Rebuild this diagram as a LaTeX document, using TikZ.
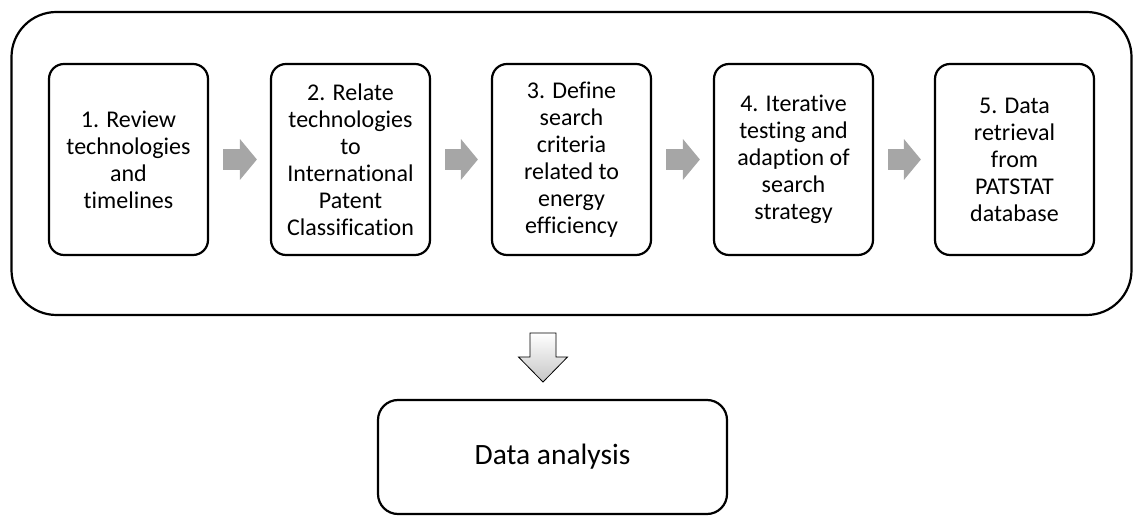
\documentclass[tikz,border=0pt]{standalone}
\usepackage{fontspec}
\setmainfont{Carlito}[Ligatures={NoCommon,NoContextual,NoRare}]
\usetikzlibrary{arrows.meta}
\definecolor{linkgray}{RGB}{166,166,166}

\begin{document}
\begin{tikzpicture}[x=1pt, y=1pt,
    stepbox/.style={draw, line width=2.2pt, rounded corners=15pt, minimum width=159pt, minimum height=191pt, align=center, font=\fontsize{24}{27}\selectfont},
    link/.style={draw=linkgray, line width=21pt, -{Triangle[length=17pt, width=40pt]}}]
  \useasboundingbox (0,0) rectangle (1134,516);
  \node [draw, line width=2.2pt, rounded corners=45pt, minimum width=1120pt, minimum height=303pt] (frame) at (571.5,352.5) {};
  \node [stepbox] (review) at (128.5,356.5) {1. Review\\technologies\\and\\timelines};
  \node [stepbox] (relate) at (350.5,356.5) {2. Relate\\technologies\\to\\International\\Patent\\Classification};
  \node [stepbox] (define) at (571.5,356.5) {3. Define\\search\\criteria\\related to\\energy\\efficiency};
  \node [stepbox] (testing) at (793.5,356.5) {4. Iterative\\testing and\\adaption of\\search\\strategy};
  \node [stepbox] (retrieval) at (1014.5,356.5) {5. Data\\retrieval\\from\\PATSTAT\\database};
  \draw [link] ([xshift=14pt]review.east) -- ([xshift=-13pt]relate.west);
  \draw [link] ([xshift=14pt]relate.east) -- ([xshift=-13pt]define.west);
  \draw [link] ([xshift=14pt]define.east) -- ([xshift=-13pt]testing.west);
  \draw [link] ([xshift=14pt]testing.east) -- ([xshift=-13pt]retrieval.west);
  \node [draw, line width=2.2pt, rounded corners=20pt, minimum width=349pt, minimum height=114pt, font=\fontsize{29.5}{34}\selectfont] (analysis) at (552.5,59) {Data analysis};
  \coordinate (dtop) at (543,183);
  \draw [line width=0.8pt, top color=white, bottom color=gray!45, shift={(dtop)}] (-13,0) -- (13,0) -- (13,-24) -- (24.5,-24) -- (0,-49) -- (-24.5,-24) -- (-13,-24) -- cycle;
\end{tikzpicture}
\end{document}
